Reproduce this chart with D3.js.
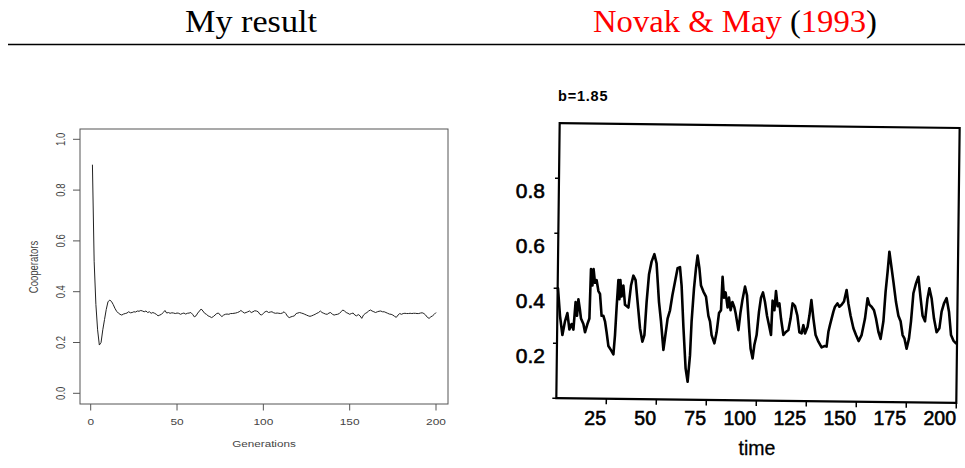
<!DOCTYPE html>
<html><head><meta charset="utf-8">
<script src="https://cdn.jsdelivr.net/npm/d3@7"></script>
<style>body{margin:0;background:#fff;} svg{display:block}</style>
</head><body>
<svg id="c" width="965" height="468"></svg>
<script>
// ---------- DATA ----------
const titleLeft = "My result";
const titleRightAuthors = "Novak & May";
const titleRightYear = "1993";

// Left: my result, cooperators per generation (generation 1..200)
const myCooperators = [
 0.90,0.52,0.35,0.25,0.19,0.20,0.25,0.29,0.33,0.36,
 0.367,0.362,0.350,0.335,0.323,0.316,0.311,0.308,0.312,0.314,
 0.316,0.321,0.317,0.318,0.321,0.320,0.324,0.323,0.326,0.324,
 0.321,0.324,0.318,0.321,0.315,0.318,0.315,0.311,0.305,0.308,
 0.311,0.318,0.326,0.316,0.318,0.315,0.317,0.316,0.314,0.316,
 0.315,0.311,0.314,0.316,0.312,0.315,0.316,0.318,0.311,0.301,
 0.305,0.316,0.324,0.332,0.324,0.315,0.311,0.305,0.302,0.298,
 0.302,0.308,0.314,0.316,0.308,0.302,0.308,0.311,0.312,0.311,
 0.314,0.314,0.315,0.316,0.318,0.321,0.326,0.321,0.316,0.318,
 0.321,0.324,0.318,0.321,0.325,0.324,0.321,0.311,0.308,0.315,
 0.321,0.323,0.318,0.320,0.321,0.317,0.315,0.316,0.315,0.314,
 0.316,0.321,0.314,0.303,0.298,0.301,0.303,0.305,0.314,0.316,
 0.318,0.316,0.314,0.311,0.308,0.305,0.303,0.305,0.308,0.311,
 0.315,0.318,0.324,0.318,0.315,0.312,0.311,0.316,0.318,0.311,
 0.308,0.310,0.311,0.314,0.321,0.328,0.324,0.318,0.315,0.311,
 0.314,0.316,0.308,0.305,0.310,0.305,0.295,0.308,0.314,0.318,
 0.324,0.328,0.324,0.321,0.318,0.321,0.323,0.324,0.321,0.321,
 0.318,0.315,0.312,0.311,0.308,0.303,0.299,0.308,0.314,0.311,
 0.314,0.315,0.314,0.314,0.315,0.314,0.315,0.315,0.314,0.314,
 0.316,0.317,0.314,0.308,0.299,0.295,0.301,0.305,0.311,0.318
];
const leftXTicks = [0, 50, 100, 150, 200];
const leftYTicks = [0, 0.2, 0.4, 0.6, 0.8, 1.0];
const leftXLabel = "Generations";
const leftYLabel = "Cooperators";

// Right: Novak & May (1993), b = 1.85
const novakTime = [
 0.5,1.5,2.7,4.0,5.2,6.2,7.3,8.2,9.3,10.0,10.7,11.5,12.0,13.2,14.0,15.2,16.2,17.0,17.7,18.3,
 19.0,19.8,20.7,21.5,22.3,23.2,24.0,24.8,25.7,27.0,28.2,29.0,29.8,30.7,31.2,31.7,32.3,33.2,34.0,35.7,
 37.0,38.2,39.3,40.3,41.5,42.7,43.7,44.8,46.0,47.3,48.7,49.8,51.0,52.0,53.2,54.0,55.3,56.5,57.7,59.0,
 60.3,61.5,62.3,63.2,64.3,65.3,66.5,67.3,68.5,69.5,70.3,71.2,72.0,73.2,74.5,75.7,76.5,77.3,78.7,79.8,
 81.0,82.0,82.8,83.5,84.3,85.3,86.0,86.8,87.7,88.7,89.3,90.7,91.7,92.7,94.0,95.0,96.0,96.8,97.8,98.7,
 99.8,101.0,102.0,103.0,104.0,105.0,106.0,107.0,107.8,108.7,109.5,110.3,111.2,112.0,113.2,114.3,115.7,116.8,117.8,119.0,
 120.2,121.2,122.3,123.2,124.0,125.3,126.2,127.2,128.2,129.3,130.7,132.3,133.7,134.8,135.7,136.5,138.2,139.0,140.2,141.2,
 142.3,143.5,144.8,145.7,146.8,148.2,149.5,150.8,152.3,154.0,155.3,156.2,157.3,158.5,159.5,160.7,161.8,163.2,164.3,165.3,
 166.2,167.0,168.2,169.5,170.7,171.8,172.8,173.7,174.8,176.0,177.0,178.2,179.5,180.7,181.8,182.8,184.0,185.2,186.2,187.3,
 188.5,189.8,191.2,192.3,193.5,194.8,196.0,197.0,198.2,199.5
];
const novakValue = [
 0.40,0.30,0.23,0.28,0.31,0.25,0.27,0.25,0.35,0.30,0.36,0.32,0.29,0.27,0.24,0.27,0.29,0.47,0.41,0.47,
 0.42,0.43,0.39,0.38,0.30,0.30,0.28,0.24,0.19,0.175,0.16,0.23,0.33,0.43,0.36,0.43,0.37,0.41,0.34,0.33,
 0.41,0.446,0.43,0.35,0.255,0.206,0.23,0.35,0.45,0.497,0.524,0.49,0.35,0.28,0.176,0.22,0.29,0.32,0.375,0.424,
 0.473,0.477,0.41,0.26,0.109,0.06,0.157,0.28,0.40,0.473,0.519,0.473,0.41,0.388,0.37,0.30,0.28,0.23,0.20,0.24,
 0.31,0.32,0.442,0.366,0.385,0.33,0.366,0.32,0.35,0.33,0.31,0.248,0.31,0.357,0.406,0.375,0.26,0.18,0.145,0.195,
 0.23,0.315,0.366,0.385,0.35,0.30,0.266,0.23,0.355,0.32,0.39,0.335,0.345,0.29,0.23,0.24,0.248,0.29,0.345,0.335,
 0.30,0.24,0.236,0.266,0.236,0.26,0.30,0.357,0.29,0.23,0.206,0.185,0.19,0.188,0.242,0.267,0.315,0.333,0.345,0.333,
 0.34,0.352,0.394,0.345,0.30,0.255,0.23,0.208,0.23,0.29,0.364,0.34,0.333,0.32,0.29,0.242,0.216,0.28,0.388,0.46,
 0.533,0.49,0.424,0.35,0.30,0.28,0.23,0.218,0.18,0.218,0.28,0.382,0.418,0.442,0.364,0.30,0.28,0.36,0.40,0.364,
 0.29,0.24,0.255,0.315,0.345,0.364,0.315,0.23,0.21,0.20
];
const rightXTicks = [25, 50, 75, 100, 125, 150, 175, 200];
const rightYTicks = [0.2, 0.4, 0.6, 0.8];
const rightXLabel = "time";
const rightNote = "b=1.85";

// ---------- DRAW ----------
const svg = d3.select("#c");
const serif = "'Liberation Serif','DejaVu Serif',serif";
const sans = "'Liberation Sans',Arial,sans-serif";

// Header
svg.append("text").attr("x", 251).attr("y", 32).attr("text-anchor", "middle")
  .attr("font-family", serif).attr("font-size", 31).attr("fill", "#000")
  .attr("textLength", 132).attr("lengthAdjust", "spacingAndGlyphs").text(titleLeft);
const tr = svg.append("text").attr("x", 593).attr("y", 32)
  .attr("font-family", serif).attr("font-size", 31)
  .attr("textLength", 284).attr("lengthAdjust", "spacingAndGlyphs");
tr.append("tspan").attr("fill", "#ff0000").text(titleRightAuthors + " ");
tr.append("tspan").attr("fill", "#000").text("(");
tr.append("tspan").attr("fill", "#ff0000").text(titleRightYear);
tr.append("tspan").attr("fill", "#000").text(")");
svg.append("line").attr("x1", 8).attr("x2", 965).attr("y1", 44.5).attr("y2", 44.5)
  .attr("stroke", "#000").attr("stroke-width", 1.4);

// ----- Left chart -----
const lx = d3.scaleLinear().domain([0, 200]).range([90.7, 436]);
const ly = d3.scaleLinear().domain([0, 1]).range([393.3, 139.3]);
const L = svg.append("g");
L.append("rect").attr("x", 80).attr("y", 129).attr("width", 368).attr("height", 275)
  .attr("fill", "none").attr("stroke", "#555").attr("stroke-width", 1);
L.selectAll(".xt").data(leftXTicks).enter().append("line")
  .attr("x1", d => lx(d)).attr("x2", d => lx(d)).attr("y1", 404).attr("y2", 410.5)
  .attr("stroke", "#555").attr("stroke-width", 1);
L.selectAll(".yt").data(leftYTicks).enter().append("line")
  .attr("y1", d => ly(d)).attr("y2", d => ly(d)).attr("x1", 80).attr("x2", 73)
  .attr("stroke", "#555").attr("stroke-width", 1);
L.selectAll(".xl").data(leftXTicks).enter().append("text")
  .attr("transform", d => `translate(${lx(d)},425) scale(1.25,1)`)
  .attr("text-anchor", "middle").attr("font-family", sans).attr("font-size", 9.5)
  .attr("fill", "#444").text(d => d);
L.selectAll(".yl").data(leftYTicks).enter().append("text")
  .attr("transform", d => `translate(60.5,${ly(d)}) scale(1.25,1) rotate(-90)`)
  .attr("text-anchor", "middle").attr("dominant-baseline", "central")
  .attr("font-family", sans).attr("font-size", 9.5).attr("fill", "#444")
  .text(d => d.toFixed(1));
L.append("text").attr("transform", "translate(264,446.5) scale(1.23,1)")
  .attr("text-anchor", "middle").attr("font-family", sans).attr("font-size", 9.5)
  .attr("fill", "#444").text(leftXLabel);
L.append("text").attr("transform", "translate(33.3,267) scale(1.25,1) rotate(-90)")
  .attr("text-anchor", "middle").attr("dominant-baseline", "central")
  .attr("font-family", sans).attr("font-size", 9.5).attr("fill", "#444").text(leftYLabel);
L.append("path").datum(myCooperators)
  .attr("d", d3.line().x((d, i) => lx(i + 1)).y(d => ly(d)))
  .attr("fill", "none").attr("stroke", "#222").attr("stroke-width", 1);

// ----- Right chart (scanned figure) -----
const rx = d3.scaleLinear().domain([0, 200]).range([557, 957]);
const ry = d3.scaleLinear().domain([0, 1]).range([398.3, 123.3]);
const R = svg.append("g");
const frame = R.append("g").attr("transform", "rotate(0.7,757,262)");
frame.append("rect").attr("x", 558).attr("y", 125.5).attr("width", 400).attr("height", 275)
  .attr("fill", "none").attr("stroke", "#000").attr("stroke-width", 2.2);
frame.selectAll(".rxt").data(rightXTicks).enter().append("line")
  .attr("x1", d => rx(d) + 1).attr("x2", d => rx(d) + 1).attr("y1", 400.5).attr("y2", 406)
  .attr("stroke", "#000").attr("stroke-width", 1.5);
frame.selectAll(".ryt").data([0].concat(rightYTicks)).enter().append("line")
  .attr("y1", d => ry(d) + 2.4).attr("y2", d => ry(d) + 2.4).attr("x1", 558).attr("x2", 554)
  .attr("stroke", "#000").attr("stroke-width", 1.5);
R.selectAll(".rxl").data(rightXTicks).enter().append("text")
  .attr("x", d => rx(d) - 1).attr("y", 425).attr("text-anchor", "end")
  .attr("font-family", sans).attr("font-size", 19.5).attr("fill", "#000")
  .attr("stroke", "#000").attr("stroke-width", 0.6).text(d => d);
R.selectAll(".ryl").data(rightYTicks).enter().append("text")
  .attr("x", 545).attr("y", d => ry(d) + 12.5).attr("text-anchor", "end")
  .attr("dominant-baseline", "central")
  .attr("font-family", sans).attr("font-size", 21).attr("fill", "#000")
  .attr("stroke", "#000").attr("stroke-width", 0.6).text(d => d.toFixed(1));
R.append("text").attr("x", 757).attr("y", 455).attr("text-anchor", "middle")
  .attr("font-family", sans).attr("font-size", 19.5).attr("fill", "#000")
  .attr("stroke", "#000").attr("stroke-width", 0.3).text(rightXLabel);
R.append("text").attr("x", 558).attr("y", 100.5)
  .attr("font-family", sans).attr("font-size", 14.5).attr("font-weight", "bold")
  .attr("letter-spacing", 0.8).attr("fill", "#000").text(rightNote);
R.append("path").datum(novakTime.map((t, i) => [t, novakValue[i]]))
  .attr("d", d3.line().x(d => rx(d[0])).y(d => ry(d[1])))
  .attr("fill", "none").attr("stroke", "#000").attr("stroke-width", 2.6)
  .attr("stroke-linejoin", "round").attr("stroke-linecap", "round");
</script>
</body></html>
